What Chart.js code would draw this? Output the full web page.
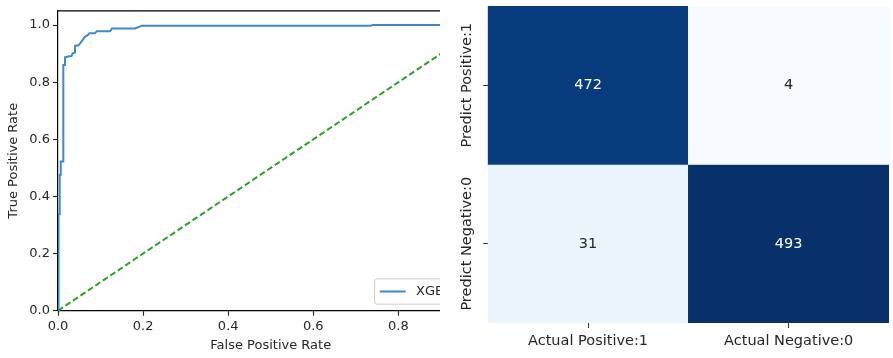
<!DOCTYPE html>
<html>
<head>
<meta charset="utf-8">
<script src="https://cdn.jsdelivr.net/npm/chart.js@4"></script>
<style>
  html, body { margin: 0; padding: 0; background: #fff; }
  body { width: 893px; height: 358px; position: relative; overflow: hidden; }
  #rocClip { position: absolute; left: 0; top: 0; width: 440px; height: 358px; overflow: hidden; }
  #cm { position: absolute; left: 440px; top: 0; }
</style>
</head>
<body>
<div id="rocClip"><canvas id="roc" width="505" height="358"></canvas></div>
<canvas id="cm" width="453" height="358"></canvas>
<script>
// ---- ROC curve (false positive rate vs true positive rate) ----
const rocFpr = [0, 0, 0.002, 0.002, 0.004, 0.004, 0.0065, 0.0065, 0.0125, 0.0125,
                0.0165, 0.0165, 0.024, 0.032, 0.0345, 0.04, 0.04, 0.048, 0.052, 0.056,
                0.059, 0.063, 0.069, 0.074, 0.087, 0.091, 0.122, 0.127, 0.181, 0.197,
                0.735, 0.74, 1.0];
const rocTpr = [0, 0.153, 0.153, 0.338, 0.338, 0.476, 0.476, 0.522, 0.522, 0.86,
                0.86, 0.887, 0.89, 0.892, 0.9015, 0.904, 0.927, 0.929, 0.936, 0.944,
                0.95, 0.959, 0.964, 0.971, 0.971, 0.978, 0.978, 0.988, 0.988, 0.998,
                0.998, 1.0, 1.0];
const chanceFpr = [0, 1];
const chanceTpr = [0, 1];
const rocXTicks = [0, 0.2, 0.4, 0.6, 0.8, 1.0];
const rocYTicks = [0, 0.2, 0.4, 0.6, 0.8, 1.0];
const rocLabel = 'XGBoost';

// ---- Confusion matrix ----
const cmCols = ['Actual Positive:1', 'Actual Negative:0'];
const cmRows = ['Predict Positive:1', 'Predict Negative:0'];
const cmPredPositive = [472, 4];
const cmPredNegative = [31, 493];

const FONT = '"DejaVu Sans", "Liberation Sans", sans-serif';
const TEXT = '#262626';
const ROC_FS = 13;
const CM_FS = 14.5;
Chart.defaults.font.family = FONT;

// matplotlib "Blues" colormap
const BLUES = ['#f7fbff', '#deebf7', '#c6dbef', '#9ecae1', '#6baed6', '#4292c6', '#2171b5', '#08519c', '#08306b'];
function hexRgb(h) { return [1, 3, 5].map(i => parseInt(h.slice(i, i + 2), 16)); }
function blues(t) {
  t = Math.max(0, Math.min(1, t));
  const pos = t * (BLUES.length - 1);
  const i = Math.min(BLUES.length - 2, Math.floor(pos));
  const f = pos - i;
  const a = hexRgb(BLUES[i]), b = hexRgb(BLUES[i + 1]);
  return a.map((v, k) => Math.round(v + (b[k] - v) * f));
}

// ---------- ROC chart ----------
const rocFrame = {
  id: 'rocFrame',
  afterDraw(chart) {
    const { ctx, chartArea: ca } = chart;
    ctx.save();
    // top and right spines
    ctx.strokeStyle = '#000';
    ctx.lineWidth = 1.2;
    ctx.beginPath();
    ctx.moveTo(ca.left, ca.top);
    ctx.lineTo(ca.right, ca.top);
    ctx.lineTo(ca.right, ca.bottom);
    ctx.stroke();

    // legend in the lower right corner of the axes
    const em = ROC_FS;
    ctx.font = em + 'px ' + FONT;
    const ds = chart.data.datasets[0];
    const tw = ctx.measureText(ds.label).width;
    const pad = 0.4 * em, handle = 2 * em, gap = 0.8 * em, axPad = 0.5 * em;
    const w = pad + handle + gap + tw + pad;
    const h = 2 * pad + 15;
    const x0 = ca.right - axPad - w;
    const y0 = ca.bottom - axPad - h;
    ctx.beginPath();
    ctx.roundRect(x0, y0, w, h, 2.6);
    ctx.fillStyle = 'rgba(255,255,255,0.8)';
    ctx.fill();
    ctx.strokeStyle = '#cccccc';
    ctx.lineWidth = 1;
    ctx.stroke();
    const cy = y0 + h / 2;
    ctx.beginPath();
    ctx.moveTo(x0 + pad, cy);
    ctx.lineTo(x0 + pad + handle, cy);
    ctx.strokeStyle = ds.borderColor;
    ctx.lineWidth = ds.borderWidth;
    ctx.stroke();
    ctx.fillStyle = TEXT;
    ctx.textBaseline = 'middle';
    ctx.textAlign = 'left';
    ctx.fillText(ds.label, x0 + pad + handle + gap, cy);
    ctx.restore();
  }
};

new Chart(document.getElementById('roc'), {
  type: 'scatter',
  data: {
    datasets: [
      {
        label: rocLabel,
        data: rocFpr.map((x, i) => ({ x, y: rocTpr[i] })),
        showLine: true,
        borderColor: '#3f8ac6',
        borderWidth: 2,
        pointRadius: 0,
        clip: 0
      },
      {
        label: 'chance',
        data: chanceFpr.map((x, i) => ({ x, y: chanceTpr[i] })),
        showLine: true,
        borderColor: '#2ca02c',
        borderWidth: 2,
        borderDash: [6, 3],
        pointRadius: 0,
        clip: 0
      }
    ]
  },
  options: {
    responsive: false,
    animation: false,
    devicePixelRatio: 1,
    layout: { padding: { top: 6.7, right: 21.5, left: 0, bottom: 0 } },
    plugins: { legend: { display: false }, tooltip: { enabled: false } },
    scales: {
      x: {
        type: 'linear', min: 0, max: 1, z: 1,
        afterBuildTicks: s => { s.ticks = rocXTicks.map(v => ({ value: v })); },
        afterFit: s => { s.height = 47.3; },
        ticks: { callback: v => Number(v).toFixed(1), font: { size: ROC_FS }, color: TEXT, padding: 3, maxRotation: 0, autoSkip: false },
        grid: { drawOnChartArea: false, tickLength: 5, color: '#222', tickWidth: 1.1 },
        border: { display: true, color: '#000', width: 1.2 },
        title: { display: true, text: 'False Positive Rate', font: { size: ROC_FS }, color: TEXT, padding: { top: 0, bottom: 4.2 } }
      },
      y: {
        type: 'linear', min: 0, max: 1.05, z: 1,
        afterBuildTicks: s => { s.ticks = rocYTicks.map(v => ({ value: v })); },
        afterFit: s => { s.width = 58; },
        ticks: { callback: v => Number(v).toFixed(1), font: { size: ROC_FS }, color: TEXT, padding: 3, autoSkip: false },
        grid: { drawOnChartArea: false, tickLength: 5, color: '#222', tickWidth: 1.1 },
        border: { display: true, color: '#000', width: 1.2 },
        title: { display: true, text: 'True Positive Rate', font: { size: ROC_FS }, color: TEXT, padding: { top: 6.2, bottom: 0 } }
      }
    }
  },
  plugins: [rocFrame]
});

// ---------- Confusion matrix heatmap ----------
const cmValues = [cmPredPositive, cmPredNegative];
const allVals = cmValues.flat();
const vmin = Math.min(...allVals), vmax = Math.max(...allVals);
const cellRgb = v => blues((v - vmin) / (vmax - vmin));
const rgbStr = c => `rgb(${c[0]},${c[1]},${c[2]})`;
function textColorFor(c) {
  const lin = c.map(v => { v /= 255; return v <= 0.03928 ? v / 12.92 : Math.pow((v + 0.055) / 1.055, 2.4); });
  const lum = 0.2126 * lin[0] + 0.7152 * lin[1] + 0.0722 * lin[2];
  return lum > 0.408 ? TEXT : '#ffffff';
}

const cmText = {
  id: 'cmText',
  afterDatasetsDraw(chart) {
    const { ctx } = chart;
    ctx.save();
    ctx.font = CM_FS + 'px ' + FONT;
    ctx.textAlign = 'center';
    ctx.textBaseline = 'middle';
    chart.data.datasets.forEach((ds, r) => {
      chart.getDatasetMeta(r).data.forEach((bar, c) => {
        const v = cmValues[r][c];
        const p = bar.getCenterPoint();
        ctx.fillStyle = textColorFor(cellRgb(v));
        ctx.fillText(String(v), p.x, p.y);
      });
    });
    // row labels, rotated to read bottom-to-top
    const ys = chart.scales.y;
    ctx.fillStyle = TEXT;
    ys.ticks.forEach((t, i) => {
      const y = ys.getPixelForValue(t.value);
      ctx.save();
      ctx.translate(27.5, y);
      ctx.rotate(-Math.PI / 2);
      ctx.fillText(cmRows[i], 0, 0);
      ctx.restore();
    });
    ctx.restore();
  }
};

new Chart(document.getElementById('cm'), {
  type: 'bar',
  data: {
    labels: cmCols,
    datasets: cmValues.map((vals, r) => ({
      label: cmRows[r],
      data: vals.map(() => [r, r + 1]),
      backgroundColor: vals.map(v => rgbStr(cellRgb(v))),
      borderWidth: 0,
      barPercentage: 1,
      categoryPercentage: 1,
      grouped: false
    }))
  },
  options: {
    responsive: false,
    animation: false,
    devicePixelRatio: 1,
    layout: { padding: { top: 6, right: 4, left: 0, bottom: 0 } },
    plugins: { legend: { display: false }, tooltip: { enabled: false } },
    scales: {
      x: {
        afterFit: s => { s.height = 35; },
        ticks: { font: { size: CM_FS }, color: TEXT, padding: 5, maxRotation: 0, autoSkip: false },
        grid: { offset: false, drawOnChartArea: false, tickLength: 5, color: '#333', tickWidth: 1 },
        border: { display: false }
      },
      y: {
        type: 'linear', min: 0, max: 2, reverse: true,
        afterBuildTicks: s => { s.ticks = cmRows.map((_, i) => ({ value: i + 0.5 })); },
        afterFit: s => { s.width = 47.7; },
        ticks: { display: false },
        grid: { drawOnChartArea: false, tickLength: 4.5, color: '#333', tickWidth: 1 },
        border: { display: false }
      }
    }
  },
  plugins: [cmText]
});
</script>
</body>
</html>
